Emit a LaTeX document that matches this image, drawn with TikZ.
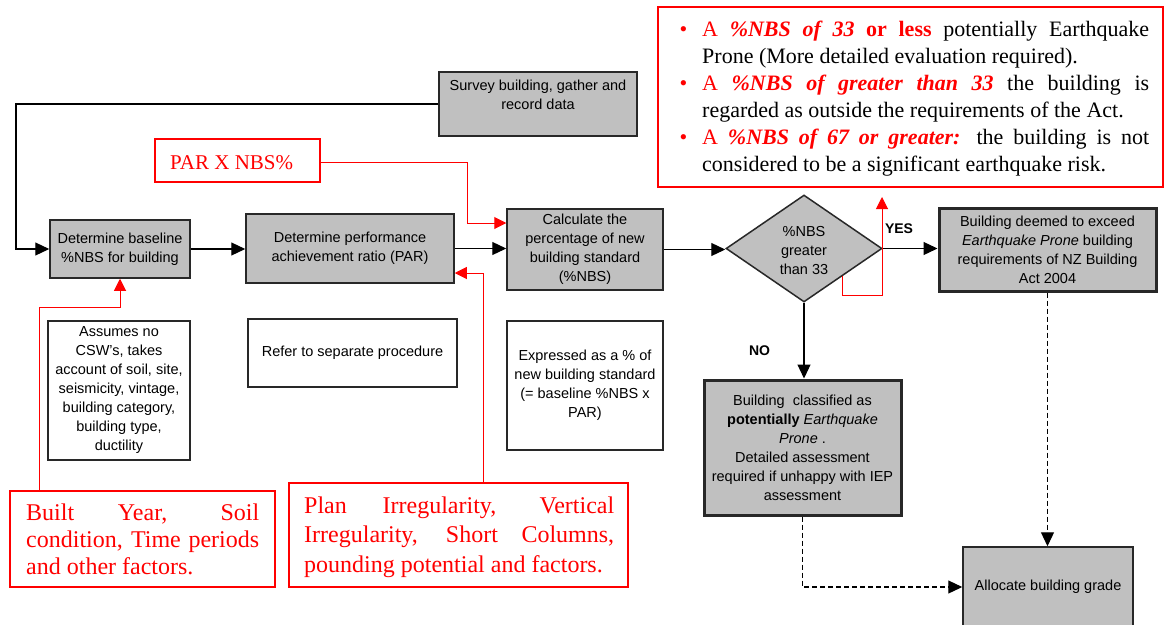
\documentclass[tikz,border=0pt]{standalone}
\usepackage{fontspec}
\setmainfont{Liberation Serif}
\setsansfont{Liberation Sans}
\usetikzlibrary{arrows.meta,shapes.geometric}
\definecolor{boxgray}{RGB}{192,192,192}
\definecolor{edge}{RGB}{40,40,40}
\newcommand{\bul}{\llap{\textcolor{red}{\textbullet}\hspace{15pt}}}
\newcommand{\rd}[1]{\textcolor{red}{#1}}

\begin{document}
\begin{tikzpicture}[x=1pt,y=-1pt,
  sans/.style={font=\sffamily\fontsize{14.5}{19}\selectfont},
  gbox/.style={sans, draw=edge, fill=boxgray, line width=1.5pt, align=center, inner sep=0pt},
  thickbox/.style={gbox, line width=3pt},
  wbox/.style={sans, draw=edge, fill=white, line width=1.5pt, align=center, inner sep=0pt},
  rbox/.style={draw=red, line width=2pt, inner sep=0pt},
  conn/.style={draw=black, line width=1.2pt, -{Triangle[length=14pt,width=13pt]}},
  dconn/.style={conn, dash pattern=on 5pt off 3pt},
  rconn/.style={draw=red, line width=1pt, -{Triangle[length=12pt,width=12pt]}},
  tag/.style={font=\sffamily\bfseries\fontsize{14}{16}\selectfont, inner sep=0pt},
]
\useasboundingbox (0,0) rectangle (1167,624);
\fill[white] (0,0) rectangle (1167,624);

% process boxes
\node[gbox, minimum width=198pt, minimum height=64pt] (survey) at (538,104) {};
\node[sans, align=center, inner sep=0pt] (surveytext) at (538,95) {Survey building, gather and\\record data};
\node[gbox, minimum width=140pt, minimum height=58pt] (base) at (120,249) {Determine baseline\\\%NBS for building};
\node[gbox, minimum width=208pt, minimum height=69pt] (par) at (350,248.5) {Determine performance\\achievement ratio (PAR)};
\node[gbox, minimum width=156pt, minimum height=81pt] (calc) at (585,249.5) {Calculate the\\percentage of new\\building standard\\(\%NBS)};
\node[draw=edge, fill=boxgray, line width=1.5pt, diamond, minimum width=156pt, minimum height=107pt, inner sep=0pt] (dec) at (804,248.5) {};
\node[sans, align=center, inner sep=0pt] (dectext) at (804,251) {\%NBS\\greater\\than 33};
\node[thickbox, minimum width=217pt, minimum height=83pt] (deem) at (1047.5,249.5) {Building deemed to exceed\\\textit{Earthquake Prone} building\\requirements of NZ Building\\Act 2004};
\node[thickbox, minimum width=197pt, minimum height=135pt] (nobox) at (802.5,447.5) {Building\ \ classified as\\\textbf{potentially} \textit{Earthquake}\\\textit{Prone} .\\Detailed assessment\\required if unhappy with IEP\\assessment};
\node[gbox, minimum width=170pt, minimum height=80pt] (alloc) at (1048,587) {Allocate building grade};

% explanatory boxes
\node[wbox, minimum width=142pt, minimum height=139pt] (assume) at (119,390.5) {Assumes no\\CSW's, takes\\account of soil, site,\\seismicity, vintage,\\building category,\\building type,\\ductility};
\node[wbox, minimum width=209pt, minimum height=68pt] (refer) at (352.5,353) {Refer to separate procedure};
\node[wbox, minimum width=156pt, minimum height=129pt] (expr) at (585,385.5) {Expressed as a \% of\\new building standard\\(= baseline \%NBS x\\PAR)};

% red annotation boxes
\node[rbox, minimum width=505pt, minimum height=180pt] (notes) at (910.5,97) {};
\node[rbox, minimum width=165pt, minimum height=43pt] (parx) at (237.5,160.5) {};
\node[rbox, minimum width=265pt, minimum height=96pt] (built) at (142.5,539) {};
\node[rbox, minimum width=339pt, minimum height=104pt] (irreg) at (458.5,535) {};

\node[font=\rmfamily\fontsize{21}{24}\selectfont, text=red, anchor=base west, inner sep=0pt] (parxtext) at (170,169) {PAR X NBS\%};

\node[font=\rmfamily\fontsize{22}{27}\selectfont, align=left, anchor=north west, inner sep=0pt] (notestext) at (702,17.1) {%
\makebox[447pt][s]{\strut\bul\rd{A \textbf{\textit{\%NBS of 33}} \textbf{or less}} potentially Earthquake}\\
Prone (More detailed evaluation required).\\
\makebox[447pt][s]{\bul\rd{A \textbf{\textit{\%NBS of greater than 33}}} the building is}\\
regarded as outside the requirements of the Act.\\
\makebox[447pt][s]{\bul\rd{A \textbf{\textit{\%NBS of 67 or greater:}}} the building is not}\\
considered to be a significant earthquake risk.};

\node[font=\rmfamily\fontsize{24}{27}\selectfont, text=red, align=left, anchor=north west, inner sep=0pt] (builttext) at (26,501.1) {%
\makebox[233pt][s]{\strut Built Year, Soil}\\
\makebox[233pt][s]{condition, Time periods}\\
and other factors.};

\node[font=\rmfamily\fontsize{24}{29.5}\selectfont, text=red, align=left, anchor=north west, inner sep=0pt] (irregtext) at (304,492.35) {%
\makebox[310pt][s]{\strut Plan Irregularity, Vertical}\\
\makebox[310pt][s]{Irregularity, Short Columns,}\\
pounding potential and factors.};

% branch labels
\node[tag] (yes) at (899,229) {YES};
\node[tag] (no) at (759.5,351) {NO};

% main flow
\coordinate (loop) at (16,104);
\draw[conn] (survey.west) -- (loop) |- (base.west);
\draw[conn] (base.east) -- (base.east -| par.west);
\draw[conn] (par.east) -- (par.east -| calc.west);
\draw[conn] (calc.east) -- (calc.east -| dec.west);
\draw[conn] (dec.east) -- (dec.east -| deem.west);
\draw[conn] (dec.south) -- (dec.south |- nobox.north);
\draw[dconn] (deem.south) -- (deem.south |- alloc.north);
\draw[dconn] (nobox.south) |- (alloc.west);

% red annotation links
\coordinate (p1) at (467,162);
\coordinate (p2) at (467,223);
\draw[rconn] (parx.east |- p1) -- (p1) -- (p2) -- (p2 -| calc.west);
\coordinate (b1) at (39,307);
\draw[rconn] (built.north -| b1) -- (b1) -| (base.south);
\coordinate (i1) at (483,273);
\draw[rconn] (irreg.north -| i1) -- (i1) -- (i1 -| par.east);
\coordinate (d1) at (842,295);
\coordinate (d2) at (882,295);
\coordinate (yesup) at (882,197);
\draw[rconn] (dec.south east -| d1) -- (d1) -- (d2) -- (yesup);
\end{tikzpicture}
\end{document}
